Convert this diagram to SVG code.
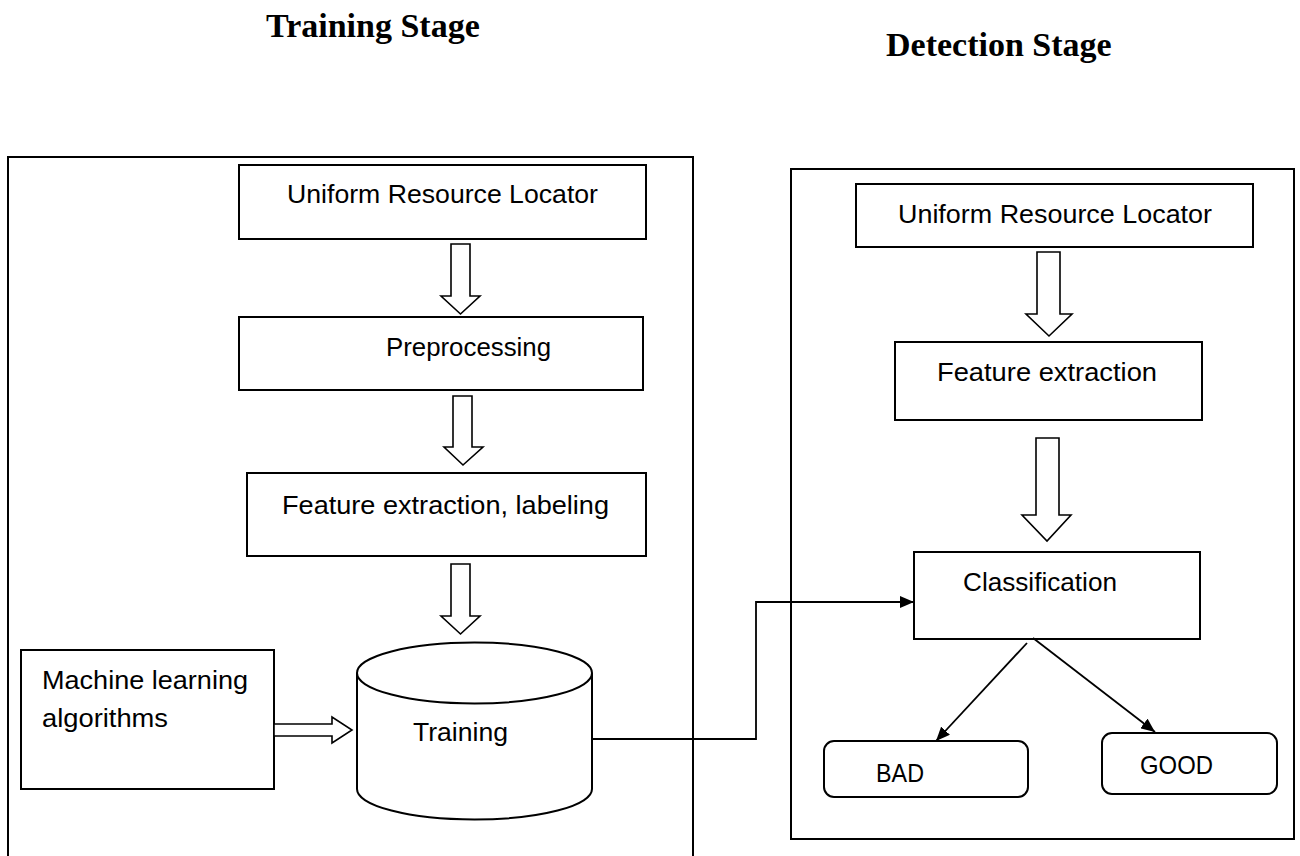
<svg xmlns="http://www.w3.org/2000/svg" width="1300" height="856" viewBox="0 0 1300 856">
<style>
.frame{fill:none;stroke:#000;stroke-width:2}
.box{fill:#fff;stroke:#000;stroke-width:2}
.blk{fill:#fff;stroke:#000;stroke-width:1.6;stroke-linejoin:miter}
.lbl{font-family:"Liberation Sans",Arial,sans-serif;font-size:25.5px;fill:#000}
.ttl{font-family:"Liberation Serif","Times New Roman",serif;font-size:34px;font-weight:bold;fill:#000}
.con{fill:none;stroke:#000;stroke-width:1.8}
</style>
<defs>
<marker id="ah" viewBox="0 0 14 12" refX="14" refY="6" markerWidth="14" markerHeight="12" markerUnits="userSpaceOnUse" orient="auto">
<path d="M0,0 L14,6 L0,12 z" fill="#000"/>
</marker>
</defs>
<rect width="1300" height="856" fill="#fff"/>
<g id="titles">
<text class="ttl" x="266" y="37">Training Stage</text>
<text class="ttl" x="886" y="56">Detection Stage</text>
</g>
<g id="training-stage">
<rect class="frame" x="8" y="157" width="685" height="720"/>
</g>
<g id="detection-stage">
<rect class="frame" x="791" y="169" width="503" height="670"/>
</g>
<g id="url-train">
<rect class="box" x="239" y="165" width="407" height="74"/>
<text class="lbl" x="287" y="203" textLength="311" lengthAdjust="spacingAndGlyphs">Uniform Resource Locator</text>
</g>
<g id="preprocessing">
<rect class="box" x="239" y="317" width="404" height="73"/>
<text class="lbl" x="386" y="356" textLength="165" lengthAdjust="spacingAndGlyphs">Preprocessing</text>
</g>
<g id="feature-labeling">
<rect class="box" x="247" y="473" width="399" height="83"/>
<text class="lbl" x="282" y="514" textLength="327" lengthAdjust="spacingAndGlyphs">Feature extraction, labeling</text>
</g>
<g id="ml-algorithms">
<rect class="box" x="21" y="650" width="253" height="139"/>
<text class="lbl" x="42" y="689" textLength="206" lengthAdjust="spacingAndGlyphs">Machine learning</text>
<text class="lbl" x="42" y="727" textLength="126" lengthAdjust="spacingAndGlyphs">algorithms</text>
</g>
<g id="training">
<path class="box" d="M357,673 A117.5,30.5 0 0 1 592,673 L592,789 A117.5,30.5 0 0 1 357,789 Z"/>
<path class="box" d="M357,673 A117.5,30.5 0 0 0 592,673" fill="none"/>
<text class="lbl" x="413" y="741" textLength="95" lengthAdjust="spacingAndGlyphs">Training</text>
</g>
<g id="url-detect">
<rect class="box" x="856" y="184" width="397" height="63"/>
<text class="lbl" x="898" y="223" textLength="314" lengthAdjust="spacingAndGlyphs">Uniform Resource Locator</text>
</g>
<g id="feature-detect">
<rect class="box" x="895" y="342" width="307" height="78"/>
<text class="lbl" x="937" y="381" textLength="220" lengthAdjust="spacingAndGlyphs">Feature extraction</text>
</g>
<g id="classification">
<rect class="box" x="914" y="552" width="286" height="87"/>
<text class="lbl" x="963" y="591" textLength="154" lengthAdjust="spacingAndGlyphs">Classification</text>
</g>
<g id="bad">
<rect class="box" x="824" y="741" width="204" height="56" rx="10"/>
<text class="lbl" x="876" y="782" textLength="48" lengthAdjust="spacingAndGlyphs">BAD</text>
</g>
<g id="good">
<rect class="box" x="1102" y="733" width="175" height="61" rx="10"/>
<text class="lbl" x="1140" y="774" textLength="73" lengthAdjust="spacingAndGlyphs">GOOD</text>
</g>
<g id="connectors">
<path class="blk" d="M451,244 H470 V296 H480 L460.5,314 L441,296 H451 Z"/>
<path class="blk" d="M453,396 H472 V447 H483 L463,465 L444,447 H453 Z"/>
<path class="blk" d="M451,564 H470 V616 H480 L460.5,634 L441,616 H451 Z"/>
<path class="blk" d="M1037,252 H1060 V314 H1072 L1049,336 L1026,314 H1037 Z"/>
<path class="blk" d="M1036,438 H1059 V515 H1071 L1047,541 L1022,515 H1036 Z"/>
<path class="blk" d="M274,724 H332 V717 L352,730 L332,743 V736 H274 Z"/>
<polyline class="con" points="593,739 756,739 756,602 914,602" marker-end="url(#ah)"/>
<line class="con" x1="1027" y1="643" x2="936" y2="741" marker-end="url(#ah)"/>
<line class="con" x1="1033" y1="638" x2="1155" y2="732" marker-end="url(#ah)"/>
</g>
</svg>
